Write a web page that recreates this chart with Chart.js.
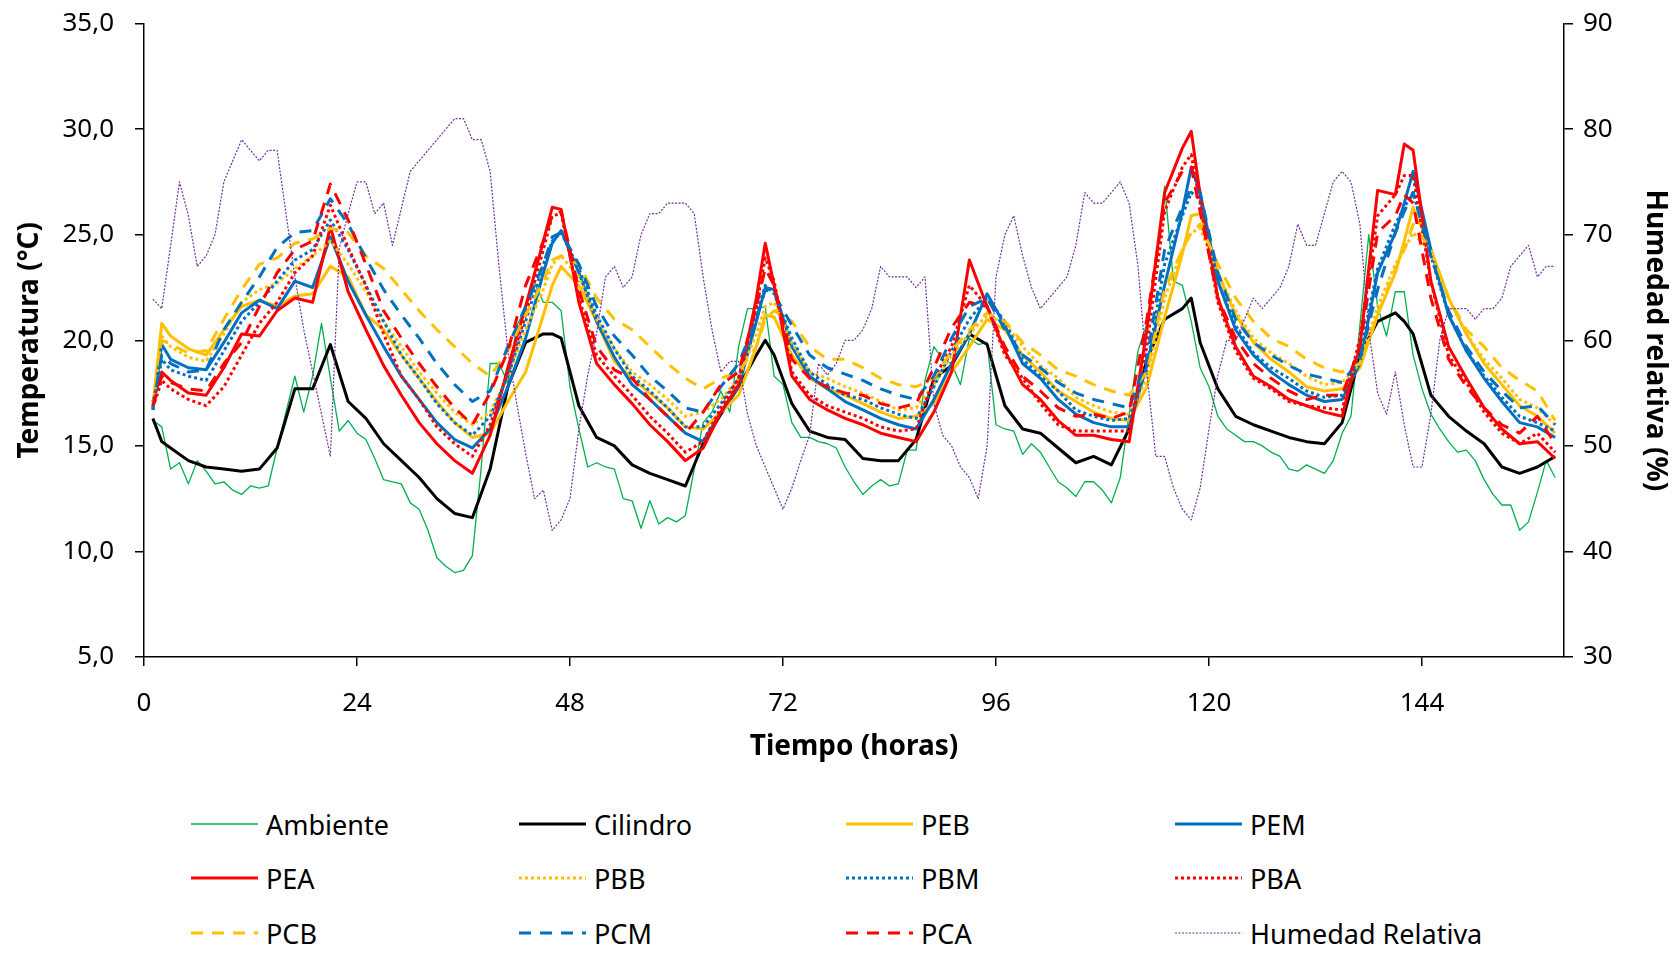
<!DOCTYPE html>
<html>
<head>
<meta charset="utf-8">
<script src="https://cdn.jsdelivr.net/npm/chart.js@4.4.0/dist/chart.umd.min.js"></script>
<style>
	html, body { margin: 0; padding: 0; background: #fff; width: 1680px; height: 953px; overflow: hidden; font-family: "Noto Sans", sans-serif; }
	#wrap { position: relative; width: 1680px; height: 953px; }
	#chart { position: absolute; left: 0; top: -13px; }
	.item { position: absolute; display: flex; align-items: center; height: 40px; font-size: 27px; color: #000; white-space: nowrap; }
	.item svg { margin-right: 8px; }
</style>
</head>
<body>
<div id="wrap">
	<canvas id="chart" width="1680" height="780"></canvas>
	<div id="legend"></div>
</div>
<script>
// horas con lectura cada 2 h (más los picos)
const horas2 = [1,2,3,5,7,9,11,13,15,17,19,21,23,25,27,29,31,33,35,37,39,41,43,45,46,47,49,51,53,55,57,59,61,63,65,67,69,70,71,73,75,77,79,81,83,85,87,89,91,93,95,97,99,101,103,105,107,109,111,113,115,117,118,119,121,123,125,127,129,131,133,135,137,139,141,142,143,145,147,149,151,153,155,157,159];
// horas con lectura horaria (Ambiente, Humedad)
const horas1 = Array.from({ length: 159 }, (_, i) => i + 1);

const ambiente = [16.2,15.9,13.9,14.2,13.2,14.3,13.8,13.2,13.3,12.9,12.7,13.1,13.0,13.1,14.9,16.6,18.3,16.6,18.3,20.8,18.2,15.7,16.2,15.6,15.3,14.4,13.4,13.3,13.2,12.3,12.0,11.0,9.7,9.3,9.0,9.1,9.8,14.0,18.9,18.9,18.0,20.7,21.5,22.7,21.8,21.8,21.4,17.8,15.8,14.0,14.2,14.0,13.9,12.5,12.4,11.1,12.4,11.3,11.6,11.4,11.7,13.9,16.1,16.6,17.6,16.6,19.7,21.5,21.5,21.6,18.3,17.9,16.1,15.4,15.4,15.2,15.1,14.9,14.0,13.3,12.7,13.1,13.4,13.1,13.2,14.8,14.8,18.1,19.7,19.1,18.9,17.9,20.1,19.8,19.9,16.0,15.8,15.7,14.6,15.1,14.7,14.0,13.3,13.0,12.6,13.3,13.3,12.9,12.3,13.5,16.5,19.5,20.8,23.5,27.3,22.8,22.6,20.9,18.7,17.8,16.4,15.8,15.5,15.2,15.2,15.0,14.7,14.5,13.9,13.8,14.1,13.9,13.7,14.3,15.6,16.4,20.7,25.0,21.6,20.2,22.3,22.3,19.3,17.7,16.5,15.8,15.2,14.7,14.8,14.3,13.4,12.7,12.2,12.2,11.0,11.4,12.8,14.3,13.5];
const humedad = [63.9,63.0,69,75,71.8,67,68,70,75,77,79,78,77,78,78,72,66,61,57,53,49,68.7,72,75,75,72,73,69,72.5,76,77,78,79,80,81,81,79,79,76,67,59,54,49.3,45,45.8,42,43,45,51.6,56.7,60.7,66,67,65,66,70,72,72,73,73,73,72,66,61,57,58,58,53,50,48,46,44,46,48.6,51,57.8,56.7,57.8,60,60,61,63,67,66,66,66,65,66,54,51,50,48,47,45,50,66,70,71.8,68,65,63,64,65,66,69,74,73,73,74,75,73,67,57,49,49,46,44,43,46,51.6,56.7,60,60,62,64,63,64,65,67,71,69,69,72,75,76,75,71,61,55,53,57,52,48,48,53,60,63,63,63,62,63,63,64,67,68,69,66,67,67];

const cilindro = [16.3,15.2,14.9,14.3,14.0,13.9,13.8,13.9,14.9,17.7,17.7,19.8,17.1,16.3,15.1,14.3,13.5,12.5,11.8,11.6,13.9,17.8,19.9,20.3,20.3,20.1,16.9,15.4,15.0,14.1,13.7,13.4,13.1,15.1,16.5,17.8,19.3,20.0,19.3,17.0,15.7,15.4,15.3,14.4,14.3,14.3,15.3,18.2,18.8,20.3,19.8,16.9,15.8,15.6,14.9,14.2,14.5,14.1,15.8,19.1,21.0,21.5,22.0,19.9,17.7,16.4,16.0,15.7,15.4,15.2,15.1,16.1,19.3,20.9,21.3,20.9,20.3,17.4,16.4,15.7,15.1,14.0,13.7,14.0,14.5];
const peb = [16.9,20.8,20.2,19.6,19.3,20.5,21.6,21.9,21.6,22.1,22.2,23.5,23.0,21.2,20.5,19.3,18.2,17.1,16.1,15.4,15.6,17.1,18.5,21.2,22.6,23.5,22.6,20.9,19.0,18.2,17.5,16.8,15.9,15.8,16.6,17.4,19.7,21.2,21.1,19.3,18.2,17.7,17.4,17.0,16.6,16.3,16.4,17.0,18.5,19.7,21.0,20.5,19.3,18.5,17.6,17.1,16.6,16.3,16.2,17.8,21.1,24.1,25.9,26.0,23.2,21.2,19.9,19.1,18.5,17.8,17.6,17.7,18.7,21.2,23.2,24.7,26.3,24.3,22.0,20.3,18.9,17.9,16.9,16.4,15.6];
const pem = [16.7,19.8,19.1,18.7,18.6,19.9,21.3,21.9,21.5,22.8,22.5,24.9,22.8,21.2,19.7,18.3,17.2,16.1,15.3,14.9,15.8,17.8,20.1,23.2,24.6,25.2,23.2,20.9,19.2,17.9,17.2,16.4,15.6,15.2,16.6,17.8,20.9,22.5,22.4,19.7,18.3,17.7,17.1,16.7,16.3,16.0,15.8,17.2,18.9,20.3,22.2,20.7,18.9,18.2,17.2,16.5,16.1,15.9,15.9,18.8,22.6,26.1,28.2,27.0,22.8,20.5,19.3,18.5,17.9,17.4,17.1,17.2,18.9,23.2,25.1,26.5,28.0,24.3,21.2,19.5,18.2,17.1,16.1,15.9,15.4];
const pea = [17.1,18.5,18.1,17.5,17.4,18.7,20.3,20.2,21.4,22.0,21.8,25.4,22.3,20.5,18.8,17.4,16.1,15.1,14.3,13.7,15.5,18.7,21.6,24.7,26.3,26.2,21.8,18.9,17.9,17.0,16.0,15.2,14.3,14.9,16.6,17.9,22.0,24.6,22.6,18.3,17.2,16.7,16.3,16.0,15.6,15.4,15.2,16.6,18.5,23.8,21.6,19.5,17.9,17.2,16.2,15.5,15.5,15.3,15.2,20.5,27.0,29.1,29.9,26.9,22.0,19.7,18.3,17.8,17.2,16.9,16.6,16.4,19.7,27.1,26.9,29.3,29.0,22.8,19.7,18.2,16.8,15.8,15.1,15.2,14.4];
const pbb = [16.8,20.2,19.7,19.2,19.0,20.3,21.8,22.4,22.7,23.4,24.0,24.7,23.6,22.3,20.9,19.7,18.5,17.5,16.6,16.0,16.6,18.3,20.5,22.4,23.6,24.0,23.0,21.0,19.6,18.5,17.9,17.2,16.4,16.6,17.2,18.2,20.3,21.6,21.8,19.9,18.5,18.2,17.8,17.5,17.1,16.7,16.8,17.9,19.3,20.3,21.2,20.8,19.7,18.8,18.2,17.3,16.9,16.6,16.5,18.2,22.0,24.3,25.1,25.3,23.2,21.4,20.1,19.4,18.9,18.3,17.9,18.0,18.9,21.6,23.6,24.3,25.1,24.1,22.0,20.3,19.1,18.2,17.2,16.8,16.0];
const pbm = [16.7,19.1,18.6,18.3,18.1,19.5,20.9,21.8,22.8,23.8,24.3,25.7,24.3,22.6,20.9,19.3,18.2,17.0,16.1,15.5,16.4,18.3,20.9,23.6,24.7,25.1,23.4,21.2,19.6,18.3,17.6,16.8,15.9,15.9,17.0,18.2,21.2,22.6,22.2,20.1,18.5,17.9,17.4,17.2,16.8,16.5,16.3,17.8,19.5,21.0,22.0,20.9,19.1,18.3,17.6,16.7,16.4,16.2,16.3,18.7,23.6,25.9,27.0,26.7,22.8,20.7,19.4,18.7,18.2,17.6,17.3,17.4,19.3,23.4,25.5,26.3,27.0,24.0,21.2,19.5,18.3,17.3,16.4,16.1,15.7];
const pba = [16.8,18.1,17.7,17.2,16.9,17.8,19.3,20.8,21.8,23.2,24.0,26.4,24.4,22.6,20.3,18.3,17.2,15.9,15.1,14.5,16.0,18.5,21.2,24.3,25.9,26.0,22.0,19.3,18.3,17.4,16.4,15.6,14.7,15.2,16.8,18.2,21.6,23.9,22.8,18.5,17.4,16.9,16.6,16.3,15.9,15.7,15.8,18.2,19.7,22.6,21.6,19.3,18.2,17.0,16.0,15.7,15.7,15.7,15.7,19.7,26.1,28.2,28.8,26.5,21.8,19.5,18.2,17.7,17.1,16.9,16.8,16.7,20.1,25.9,26.9,27.8,27.8,22.8,19.3,18.0,16.6,15.6,15.1,15.6,14.7];
const pcb = [16.8,20.0,19.8,19.4,19.5,21.0,22.4,23.6,23.9,24.6,24.8,25.3,25.1,24.0,23.4,22.4,21.4,20.5,19.7,18.9,18.3,19.5,21.2,22.8,23.8,24.0,23.6,22.0,21.0,20.5,19.7,18.9,18.2,17.7,18.2,18.5,19.7,21.0,21.4,20.9,19.7,19.1,19.1,18.7,18.2,17.9,17.8,18.2,19.5,20.5,21.3,20.9,19.9,19.3,18.6,18.3,17.9,17.6,17.4,18.5,22.4,24.3,25.1,25.5,23.6,22.0,20.9,20.1,19.7,19.1,18.7,18.5,18.9,21.2,23.4,24.3,25.5,24.3,22.0,20.5,19.7,18.7,18.1,17.6,16.2];
const pcm = [16.8,19.3,18.9,18.5,18.6,20.5,21.8,23.0,24.4,25.1,25.2,26.7,25.5,23.9,22.4,21.2,20.1,18.9,17.9,17.1,17.6,19.7,21.6,23.6,24.9,25.1,23.6,21.6,20.2,19.3,18.3,17.6,16.8,16.6,17.8,18.9,21.0,22.4,22.2,20.7,19.3,18.7,18.4,18.1,17.7,17.4,17.2,18.3,20.1,21.6,22.0,20.5,19.3,18.7,18.0,17.5,17.2,17.0,16.8,19.1,24.3,26.3,27.2,27.0,23.2,21.0,19.9,19.3,18.8,18.4,18.2,18.0,19.1,22.4,25.1,26.1,27.0,24.0,21.4,19.7,18.5,17.6,16.8,16.9,16.0];
const pca = [16.9,18.3,18.0,17.7,17.6,18.9,19.9,21.6,23.2,24.3,24.7,27.4,25.7,23.6,21.4,20.1,18.9,17.8,16.8,16.0,17.5,19.5,22.6,24.7,25.9,26.1,22.4,19.7,18.6,18.2,17.2,16.4,15.6,16.6,17.9,18.5,21.6,23.4,22.6,19.1,18.2,17.8,17.5,17.4,17.0,16.8,17.0,18.7,20.6,21.8,21.6,19.7,18.3,17.6,16.8,16.4,16.5,16.3,16.6,21.0,26.5,28.0,28.2,26.1,22.0,20.1,18.9,18.2,17.6,17.2,17.4,17.4,19.7,25.1,25.9,26.9,26.5,22.0,19.1,17.8,16.8,16.0,15.6,16.4,15.1];

const xTicks = [0, 24, 48, 72, 96, 120, 144];

const GREEN = "#00B050", BLACK = "#000000", GOLD = "#FFC000", BLUE = "#0070C0", RED = "#FF0000", PURPLE = "#7030A0";
const DOT = [3, 3], DASH = [12, 9];

// label, x, y, color, width, dash, axis
const series = [
	["Ambiente", horas1, ambiente, GREEN, 1.3, [], "y"],
	["Cilindro", horas2, cilindro, BLACK, 3, [], "y"],
	["PEB", horas2, peb, GOLD, 3, [], "y"],
	["PEM", horas2, pem, BLUE, 3, [], "y"],
	["PEA", horas2, pea, RED, 3, [], "y"],
	["PBB", horas2, pbb, GOLD, 3, DOT, "y"],
	["PBM", horas2, pbm, BLUE, 3, DOT, "y"],
	["PBA", horas2, pba, RED, 3, DOT, "y"],
	["PCB", horas2, pcb, GOLD, 3, DASH, "y"],
	["PCM", horas2, pcm, BLUE, 3, DASH, "y"],
	["PCA", horas2, pca, RED, 3, DASH, "y"],
	["Humedad Relativa", horas1, humedad, PURPLE, 1.2, [2, 1.5], "y1"],
];

const datasets = series.map(([label, xs, ys, color, width, dash, axis], i) => ({
	label: label,
	data: ys.map((v, k) => ({ x: xs[k], y: v })),
	borderColor: color,
	backgroundColor: color,
	borderWidth: width,
	borderDash: dash,
	borderJoinStyle: "round",
	pointRadius: 0,
	tension: 0,
	fill: false,
	yAxisID: axis,
	order: series.length - i,
}));

const tickFont = { family: "Noto Sans", size: 26 };
const titleFont = { family: "Noto Sans", size: 28, weight: "bold" };
const axisGrid = { display: true, drawOnChartArea: false, drawTicks: true, tickLength: 9, color: "#000", lineWidth: 1.5 };
const axisBorder = { display: true, color: "#000", width: 1.5 };

// the canvas sits 13px above the page top, so the plot spans 23..657 on screen
const ctx = document.getElementById("chart").getContext("2d");
new Chart(ctx, {
	type: "line",
	data: { datasets: datasets },
	options: {
		responsive: false,
		animation: false,
		devicePixelRatio: 1,
		layout: { padding: { left: 0, right: 0, top: 10, bottom: 780 - 670 - 107 } },
		plugins: { legend: { display: false }, tooltip: { enabled: false } },
		scales: {
			x: {
				type: "linear",
				min: 0,
				max: 160,
				afterBuildTicks: (s) => { s.ticks = xTicks.map((v) => ({ value: v })); },
				afterFit: (s) => { s.height = 107; },
				grid: axisGrid,
				border: axisBorder,
				ticks: { font: tickFont, color: "#000", padding: 22, maxRotation: 0 },
				title: { display: true, text: "Tiempo (horas)", font: titleFont, color: "#000", padding: { top: 0, bottom: 0 } },
			},
			y: {
				position: "left",
				min: 5,
				max: 35,
				afterFit: (s) => { s.width = 144; },
				grid: axisGrid,
				border: axisBorder,
				ticks: { stepSize: 5, font: tickFont, color: "#000", padding: 21, callback: (v) => v.toFixed(1).replace(".", ",") },
				title: { display: true, text: "Temperatura (°C)", font: titleFont, color: "#000", padding: { top: 13, bottom: 0 } },
			},
			y1: {
				position: "right",
				min: 30,
				max: 90,
				afterFit: (s) => { s.width = 116; },
				grid: axisGrid,
				border: axisBorder,
				ticks: { stepSize: 10, font: tickFont, color: "#000", padding: 10 },
				title: { display: true, text: "Humedad relativa (%)", font: titleFont, color: "#000", padding: { top: 8, bottom: 0 } },
			},
		},
	},
});

// leyenda en rejilla de 4 columnas
const legendCols = [191, 519, 846, 1175];
const legendRows = [824, 878, 933];
const legend = document.getElementById("legend");
series.forEach(([label, , , color, width, dash], i) => {
	const item = document.createElement("div");
	item.className = "item";
	item.style.left = legendCols[i % 4] + "px";
	item.style.top = legendRows[Math.floor(i / 4)] - 20 + "px";
	const da = dash.length ? `stroke-dasharray="${dash.join(" ")}"` : "";
	item.innerHTML = `<svg width="67" height="10"><line x1="0" y1="5" x2="67" y2="5" stroke="${color}" stroke-width="${width}" ${da}/></svg><span>${label}</span>`;
	legend.appendChild(item);
});
</script>
</body>
</html>
